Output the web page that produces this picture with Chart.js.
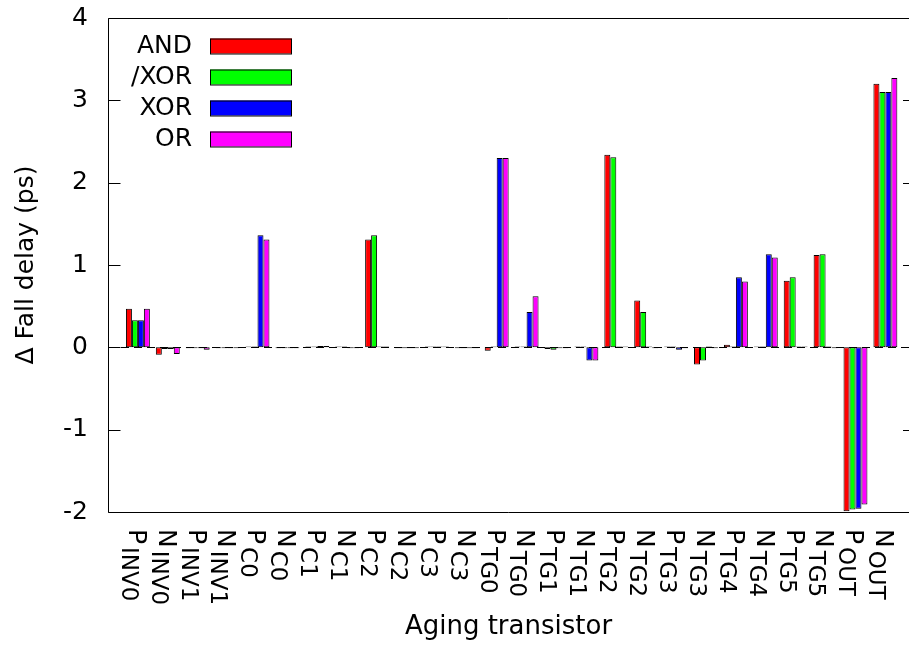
<!DOCTYPE html>
<html><head><meta charset="utf-8">
<script src="https://cdn.jsdelivr.net/npm/chart.js@4"></script>
<style>html,body{margin:0;padding:0;background:#fff;}#wrap{width:909px;height:646px;position:relative;}</style>
</head><body><div id="wrap"><canvas id="c"></canvas></div>
<script>
// category labels: main letter + subscript
const mainLabels = ['P','N','P','N','P','N','P','N','P','N','P','N','P','N','P','N','P','N','P','N','P','N','P','N','P','N'];
const subLabels  = ['INV0','INV0','INV1','INV1','C0','C0','C1','C1','C2','C2','C3','C3','TG0','TG0','TG1','TG1','TG2','TG2','TG3','TG3','TG4','TG4','TG5','TG5','OUT','OUT'];
const seriesNames  = ['AND','/XOR','XOR','OR'];
const seriesColors = ['#ff0000','#00ff00','#0000ff','#ff00ff'];
const andValues  = [0.47,-0.09,-0.01,-0.01,0.01,-0.01,0.01,0.01,1.31,-0.01,0.01,-0.01,-0.04,0.01,-0.02,0.01,2.34,0.57,0.01,-0.21,0.03,0.01,0.81,1.12,-1.99,3.20];
const nxorValues = [0.33,-0.02,-0.01,-0.01,0.01,-0.01,0.01,0.01,1.36,-0.01,0.01,-0.01,0.01,0.01,-0.03,0.01,2.31,0.43,0.01,-0.16,0.01,0.01,0.85,1.13,-1.97,3.10];
const xorValues  = [0.33,-0.02,-0.01,-0.01,1.36,-0.01,0.015,-0.01,0.01,-0.01,0.01,-0.01,2.30,0.43,-0.01,-0.16,0.01,0.01,-0.03,0.01,0.85,1.13,0.01,0.01,-1.96,3.10];
const orValues   = [0.47,-0.08,-0.03,-0.01,1.31,-0.01,0.015,-0.01,0.01,-0.01,0.01,-0.01,2.30,0.62,-0.01,-0.16,0.01,-0.01,-0.01,-0.01,0.80,1.09,0.01,-0.01,-1.91,3.27];
const yTickValues = [-2,-1,0,1,2,3,4];
const xTitle = 'Aging transistor';
const yTitle = '\u0394 Fall delay (ps)';

const allValues = [andValues, nxorValues, xorValues, orValues];
const FONT = '"DejaVu Sans", sans-serif';

const datasets = allValues.map((vals, k) => ({
  label: seriesNames[k],
  data: vals.map((v, i) => ({x: i, y: v})),
  backgroundColor: seriesColors[k],
  borderColor: '#000',
  borderWidth: 1,
  borderSkipped: false,
  categoryPercentage: 0.8,
  barPercentage: 1.0
}));

const decor = {
  id: 'decor',
  beforeDatasetsDraw(chart) {
    const ctx = chart.ctx, a = chart.chartArea, y = chart.scales.y;
    const y0 = Math.round(y.getPixelForValue(0)) + 0.5;
    ctx.save();
    ctx.strokeStyle = '#000';
    ctx.lineWidth = 1;
    ctx.setLineDash([8, 5]);
    ctx.beginPath(); ctx.moveTo(a.left, y0); ctx.lineTo(a.right, y0); ctx.stroke();
    ctx.restore();
  },
  afterDatasetsDraw(chart) {
    const ctx = chart.ctx, a = chart.chartArea, y = chart.scales.y;
    ctx.save();
    ctx.strokeStyle = '#000';
    ctx.lineWidth = 1;
    const L = Math.round(a.left) + 0.5, T = Math.round(a.top) + 0.5, B = Math.round(a.bottom) + 0.5, R = a.right;
    ctx.beginPath();
    ctx.moveTo(R, T); ctx.lineTo(L, T); ctx.lineTo(L, B); ctx.lineTo(R, B);
    ctx.stroke();
    yTickValues.forEach(v => {
      const py = Math.round(y.getPixelForValue(v)) + 0.5;
      ctx.beginPath();
      ctx.moveTo(L, py); ctx.lineTo(L + 12, py);
      ctx.moveTo(R - 6, py); ctx.lineTo(R, py);
      ctx.stroke();
    });
    ctx.font = '25px ' + FONT;
    ctx.textAlign = 'right';
    ctx.textBaseline = 'middle';
    chart.data.datasets.forEach((ds, k) => {
      const cy = a.top + 28 + 31 * k;
      ctx.fillStyle = '#000';
      ctx.fillText(ds.label, a.left + 84, cy);
      ctx.fillStyle = ds.backgroundColor;
      ctx.fillRect(a.left + 102, cy - 7.5, 82, 15);
      ctx.strokeRect(a.left + 102.5, cy - 7, 81, 15);
    });
    ctx.restore();
  },
  afterDraw(chart) {
    const ctx = chart.ctx, a = chart.chartArea, x = chart.scales.x;
    ctx.save();
    ctx.fillStyle = '#000';
    ctx.textAlign = 'left';
    ctx.textBaseline = 'alphabetic';
    mainLabels.forEach((m, i) => {
      const px = x.getPixelForValue(i);
      ctx.save();
      ctx.translate(px, a.bottom + 17);
      ctx.rotate(Math.PI / 2);
      ctx.font = '25px ' + FONT;
      const cap = 25 * 0.729;
      ctx.fillText(m, 0, cap / 2);
      const w = ctx.measureText(m).width;
      ctx.font = '23px ' + FONT;
      ctx.fillText(subLabels[i], w + 3, cap / 2 + 7);
      ctx.restore();
    });
    ctx.restore();
  }
};

new Chart(document.getElementById('c'), {
  type: 'bar',
  data: { datasets },
  options: {
    responsive: true,
    maintainAspectRatio: false,
    animation: false,
    layout: { padding: { top: 18, left: 0, right: 0, bottom: 0 } },
    plugins: { legend: { display: false }, tooltip: { enabled: false } },
    scales: {
      x: {
        type: 'linear',
        min: -1,
        max: 25.79,
        offset: false,
        grid: { display: false, drawTicks: false },
        border: { display: false },
        ticks: { display: false },
        title: { display: true, text: xTitle, color: '#000', font: { family: FONT, size: 26 }, padding: { top: 0, bottom: 3 } },
        afterFit(s) { s.height = 134; s.paddingLeft = 0; s.paddingRight = 0; }
      },
      y: {
        min: -2,
        max: 4,
        grid: { display: false, drawTicks: false },
        border: { display: false },
        ticks: { stepSize: 1, color: '#000', font: { family: FONT, size: 25 }, padding: 20,
          callback: v => yTickValues.includes(v) ? String(v) : '' },
        title: { display: true, text: yTitle, color: '#000', font: { family: FONT, size: 25 }, padding: { top: 11, bottom: 0 } },
        afterFit(s) { s.width = 108; s.paddingTop = 0; s.paddingBottom = 0; }
      }
    }
  },
  plugins: [decor]
});
</script></body></html>
